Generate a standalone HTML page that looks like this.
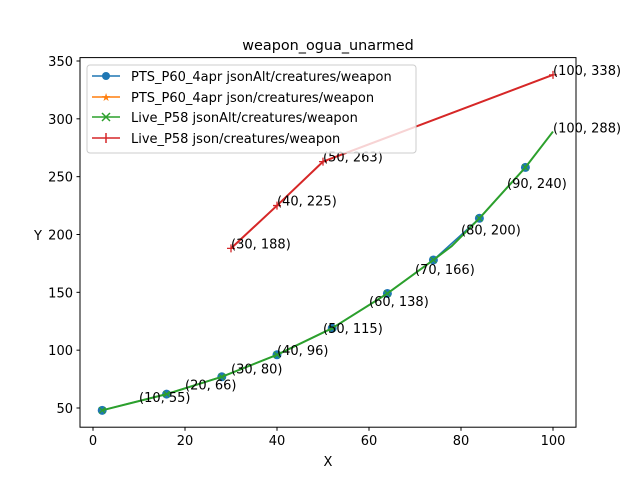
<!DOCTYPE html>
<html><head><meta charset="utf-8"><style>
body{margin:0;background:#fff;}
svg{display:block;font-family:"DejaVu Sans","Liberation Sans",sans-serif;}
</style></head><body>
<svg id="chart" width="640" height="480">
<rect width="640" height="480" fill="#fff"/>
<text x="328" y="50" font-size="14.4" text-anchor="middle">weapon_ogua_unarmed</text>
<g id="plot"></g>
<rect x="80" y="57.6" width="496" height="369.6" fill="none" stroke="#000" stroke-width="1"/>
<text x="328" y="466" font-size="13" text-anchor="middle">X</text>
<text x="38" y="240" font-size="13" text-anchor="middle">Y</text>
<g>
<rect x="87" y="65" width="329" height="88" rx="3" fill="#fff" fill-opacity="0.8" stroke="#ccc"/>
<g><line x1="92" y1="76" x2="120" y2="76" stroke="#1f77b4" stroke-width="1.5"/><circle cx="106" cy="76" r="4" fill="#1f77b4"/><text x="131" y="81" font-size="13">PTS_P60_4apr jsonAlt/creatures/weapon</text></g>
<g><line x1="92" y1="97" x2="120" y2="97" stroke="#ff7f0e" stroke-width="1.5"/><text x="106" y="101" font-size="11" fill="#ff7f0e" text-anchor="middle">★</text><text x="131" y="102" font-size="13">PTS_P60_4apr json/creatures/weapon</text></g>
<g><line x1="92" y1="117" x2="120" y2="117" stroke="#2ca02c" stroke-width="1.5"/><path d="M102 113L110 121M110 113L102 121" stroke="#2ca02c" stroke-width="1.5"/><text x="131" y="122" font-size="13">Live_P58 jsonAlt/creatures/weapon</text></g>
<g><line x1="92" y1="138" x2="120" y2="138" stroke="#d62728" stroke-width="1.5"/><path d="M106 133V143" stroke="#d62728" stroke-width="1.5"/><text x="131" y="143" font-size="13">Live_P58 json/creatures/weapon</text></g>
</g>
</svg>
<script>
const xTicks=[0,20,40,60,80,100];
const yTicks=[50,100,150,200,250,300,350];
const ptsAltX=[2,16,28,40,52,64,74,84,94];
const ptsAltY=[48,62,77,96,119,149,178,214,258];
const liveAltX=[2,16,28,40,52,64,74,78,84,94,100];
const liveAltY=[48,62,77,96,119,149,178,190,214,258,289];
const jsonX=[30,40,50,100];
const jsonY=[188,225,263,338];
const annoAltX=[10,20,30,40,50,60,70,80,90,100];
const annoAltY=[55,66,80,96,115,138,166,200,240,288];
const annoJsonX=[30,40,50,100];
const annoJsonY=[188,225,263,338];
const NS='http://www.w3.org/2000/svg';
const sx=v=>93+(v)*4.6;
const sy=v=>408-(v-50)*1.1567;
const plot=document.getElementById('plot');
const svg=document.getElementById('chart');
function mk(t,a,p){const e=document.createElementNS(NS,t);for(const k in a)e.setAttribute(k,a[k]);(p||plot).appendChild(e);return e;}
xTicks.forEach(v=>{
 const l=mk('line',{x1:sx(v),x2:sx(v),y1:427.2,y2:430.7,stroke:'#000'},svg);
 
 
 const t=mk('text',{x:sx(v),y:445,'font-size':13,'text-anchor':'middle'},svg);t.textContent=v;
 
 
});
yTicks.forEach(v=>{
 const l=mk('line',{x1:76.5,x2:80,y1:sy(v),y2:sy(v),stroke:'#000'},svg);
 
 
 const t=mk('text',{x:73,y:sy(v)+5,'font-size':13,'text-anchor':'end'},svg);t.textContent=v;
 
 
});
const pts=(X,Y)=>X.map((x,i)=>sx(x)+','+sy(Y[i])).join(' ');
const b=mk('polyline',{points:pts(ptsAltX,ptsAltY),fill:'none',stroke:'#1f77b4','stroke-width':1.5});


ptsAltX.forEach((x,i)=>{const c=mk('circle',{cx:sx(x),cy:sy(ptsAltY[i]),r:4.5,fill:'#1f77b4'});
 
 });
const o=mk('polyline',{points:pts(jsonX,jsonY),fill:'none',stroke:'#ff7f0e','stroke-width':1.5});


const g=mk('polyline',{points:pts(liveAltX,liveAltY),fill:'none',stroke:'#2ca02c','stroke-width':2,'stroke-linejoin':'round'});


ptsAltX.forEach((x,i)=>{const X=sx(x),Y=sy(ptsAltY[i]);const p=mk('path',{d:`M${X-3} ${Y-3}L${X+3} ${Y+3}M${X+3} ${Y-3}L${X-3} ${Y+3}`,stroke:'#2ca02c','stroke-width':1.2});
 
 });
const r=mk('polyline',{points:pts(jsonX,jsonY),fill:'none',stroke:'#d62728','stroke-width':2});


jsonX.forEach((x,i)=>{const X=sx(x),Y=sy(jsonY[i]);const p=mk('path',{d:`M${X-4} ${Y}H${X+4}M${X} ${Y-4}V${Y+4}`,stroke:'#d62728','stroke-width':1.3});
 
 });
function anno(X,Y){X.forEach((x,i)=>{const t=mk('text',{x:sx(x),y:sy(Y[i]),'font-size':13});t.textContent='('+x+', '+Y[i]+')';
 
 });}
anno(annoAltX,annoAltY);anno(annoJsonX,annoJsonY);
</script>
</body></html>
